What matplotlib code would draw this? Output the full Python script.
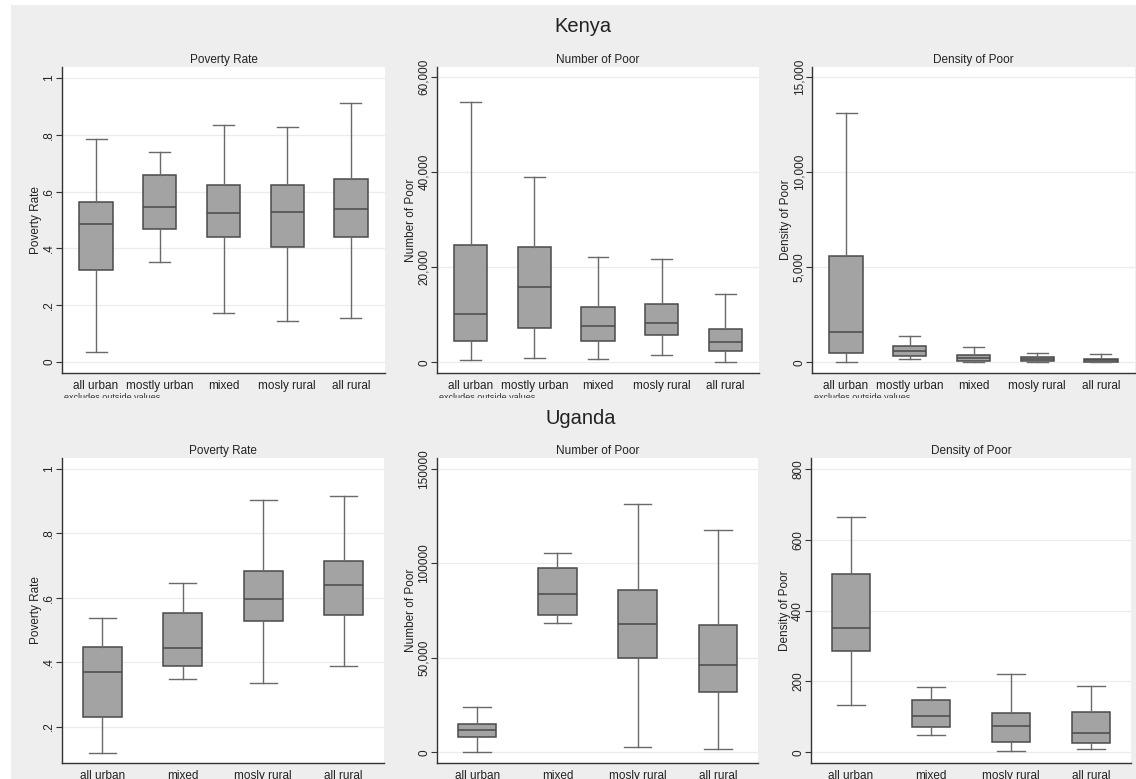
import matplotlib
matplotlib.use("Agg")
import matplotlib.pyplot as plt
from matplotlib.patches import Rectangle

plt.rcParams['font.family'] = ['Liberation Sans', 'DejaVu Sans']

# ---------------- data ----------------
ke_cats = ["all urban", "mostly urban", "mixed", "mosly rural", "all rural"]
ug_cats = ["all urban", "mixed", "mosly rural", "all rural"]

# order: lower whisker, Q1, median, Q3, upper whisker
ke_rate_lo = [0.034, 0.351, 0.172, 0.143, 0.156]
ke_rate_q1 = [0.324, 0.470, 0.440, 0.406, 0.440]
ke_rate_med = [0.486, 0.547, 0.526, 0.527, 0.540]
ke_rate_q3 = [0.562, 0.660, 0.625, 0.625, 0.645]
ke_rate_hi = [0.787, 0.740, 0.833, 0.828, 0.911]

ke_num_lo = [421, 982, 702, 1544, 140]
ke_num_q1 = [4561, 7158, 4561, 5684, 2386]
ke_num_med = [10245, 15789, 7579, 8351, 4281]
ke_num_q3 = [24700, 24351, 11649, 12351, 7088]
ke_num_hi = [54737, 38947, 22246, 21825, 14316]

ke_den_lo = [35, 175, 0, 18, 5]
ke_den_q1 = [474, 316, 70, 53, 35]
ke_den_med = [1579, 579, 228, 158, 123]
ke_den_q3 = [5596, 877, 404, 263, 175]
ke_den_hi = [13140, 1386, 825, 509, 421]

ug_rate_lo = [0.119, 0.347, 0.334, 0.389]
ug_rate_q1 = [0.229, 0.389, 0.527, 0.547]
ug_rate_med = [0.369, 0.443, 0.597, 0.640]
ug_rate_q3 = [0.448, 0.552, 0.682, 0.713]
ug_rate_hi = [0.538, 0.647, 0.904, 0.916]

ug_num_lo = [176, 68294, 3000, 1588]
ug_num_q1 = [8294, 72882, 49765, 31941]
ug_num_med = [11647, 83647, 68118, 46412]
ug_num_q3 = [14824, 97765, 85941, 67588]
ug_num_hi = [23824, 105529, 131647, 117706]

ug_den_lo = [133, 50, 5, 10]
ug_den_q1 = [285, 72, 28, 26]
ug_den_med = [352, 103, 75, 54]
ug_den_q3 = [503, 147, 112, 114]
ug_den_hi = [664, 185, 220, 188]

ke_rate_ticks = [0, 0.2, 0.4, 0.6, 0.8, 1.0]
ke_rate_labels = ["0", ".2", ".4", ".6", ".8", "1"]
ke_num_ticks = [0, 20000, 40000, 60000]
ke_num_labels = ["0", "20,000", "40,000", "60,000"]
ke_den_ticks = [0, 5000, 10000, 15000]
ke_den_labels = ["0", "5,000", "10,000", "15,000"]
ug_rate_ticks = [0.2, 0.4, 0.6, 0.8, 1.0]
ug_rate_labels = [".2", ".4", ".6", ".8", "1"]
ug_num_ticks = [0, 50000, 100000, 150000]
ug_num_labels = ["0", "50,000", "100000", "150000"]
ug_den_ticks = [0, 200, 400, 600, 800]
ug_den_labels = ["0", "200", "400", "600", "800"]

# ---------------- figure ----------------
W, H = 1136, 779
fig = plt.figure(figsize=(W / 100, H / 100), dpi=100)
fig.patch.set_facecolor("white")

BG = "#eeeeee"
fig.patches.append(Rectangle((11 / W, 1 - 409 / H), (W - 11) / W, (409 - 5) / H,
                             transform=fig.transFigure, facecolor=BG, edgecolor="none", zorder=-10))
fig.patches.append(Rectangle((11 / W, 0), (W - 11) / W, 1 - 409 / H,
                             transform=fig.transFigure, facecolor=BG, edgecolor="none", zorder=-10))


def make_ax(x0, x1, y0, y1):
    return fig.add_axes([x0 / W, 1 - y1 / H, (x1 - x0) / W, (y1 - y0) / H])


def draw(ax, cats, lo, q1, med, q3, hi, ylim, ticks, tlabels, title, ylabel,
         xpad, bw, cw, note=False):
    stats = []
    for i in range(len(cats)):
        stats.append(dict(whislo=lo[i], q1=q1[i], med=med[i], q3=q3[i],
                          whishi=hi[i], fliers=[]))
    pos = list(range(1, len(cats) + 1))
    ax.bxp(stats, positions=pos, widths=bw, capwidths=cw, patch_artist=True,
           showfliers=False,
           boxprops=dict(facecolor="#a3a3a3", edgecolor="#4a4a4a", linewidth=1.1),
           medianprops=dict(color="#4a4a4a", linewidth=1.1),
           whiskerprops=dict(color="#6a6a6a", linewidth=1.0),
           capprops=dict(color="#6a6a6a", linewidth=1.0))
    ax.set_xlim(1 - xpad, len(cats) + xpad)
    ax.set_ylim(*ylim)
    ax.set_yticks(ticks)
    ax.set_yticklabels(tlabels, rotation=90, va="center", fontsize=8.5, color="#222222")
    ax.set_xticks(pos)
    ax.set_xticklabels(cats, fontsize=8.5, color="#222222")
    ax.tick_params(axis="x", length=0, pad=5)
    ax.tick_params(axis="y", length=4, width=0.8, color="#333333", pad=1)
    ax.set_facecolor("white")
    for s in ["top", "right"]:
        ax.spines[s].set_visible(False)
    for s in ["left", "bottom"]:
        ax.spines[s].set_color("#333333")
        ax.spines[s].set_linewidth(1.0)
    ax.yaxis.grid(True, color="#ececec", linewidth=0.9)
    ax.set_axisbelow(True)
    ax.set_title(title, fontsize=8.5, pad=3, color="#222222")
    ax.set_ylabel(ylabel, fontsize=8.5, color="#222222", labelpad=1)
    if note:
        ax.text(0.005, -0.064, "excludes outside values", transform=ax.transAxes,
                fontsize=6.5, va="top", ha="left", color="#333333")


top_y = (67, 373)
bot_y = (458, 763)

a1 = make_ax(62, 385, *top_y)
draw(a1, ke_cats, ke_rate_lo, ke_rate_q1, ke_rate_med, ke_rate_q3, ke_rate_hi,
     (-0.039, 1.039), ke_rate_ticks, ke_rate_labels, "Poverty Rate", "Poverty Rate",
     0.534, 0.52, 0.33, note=True)
a2 = make_ax(437, 759, *top_y)
draw(a2, ke_cats, ke_num_lo, ke_num_q1, ke_num_med, ke_num_q3, ke_num_hi,
     (-2250, 62170), ke_num_ticks, ke_num_labels, "Number of Poor", "Number of Poor",
     0.534, 0.52, 0.33, note=True)
a3 = make_ax(812, 1135, *top_y)
draw(a3, ke_cats, ke_den_lo, ke_den_q1, ke_den_med, ke_den_q3, ke_den_hi,
     (-560, 15540), ke_den_ticks, ke_den_labels, "Density of Poor", "Density of Poor",
     0.534, 0.52, 0.33, note=True)

b1 = make_ax(62, 384, *bot_y)
draw(b1, ug_cats, ug_rate_lo, ug_rate_q1, ug_rate_med, ug_rate_q3, ug_rate_hi,
     (0.087, 1.034), ug_rate_ticks, ug_rate_labels, "Poverty Rate", "Poverty Rate",
     0.5, 0.48, 0.34)
b2 = make_ax(437, 758, *bot_y)
draw(b2, ug_cats, ug_num_lo, ug_num_q1, ug_num_med, ug_num_q3, ug_num_hi,
     (-5665, 155824), ug_num_ticks, ug_num_labels, "Number of Poor", "Number of Poor",
     0.5, 0.48, 0.34)
b3 = make_ax(811, 1131, *bot_y)
draw(b3, ug_cats, ug_den_lo, ug_den_q1, ug_den_med, ug_den_q3, ug_den_hi,
     (-30.2, 831), ug_den_ticks, ug_den_labels, "Density of Poor", "Density of Poor",
     0.5, 0.48, 0.34)

fig.text(583 / W, 1 - 27 / H, "Kenya", ha="center", va="center", fontsize=14.5, color="#222222")
fig.text(581 / W, 1 - 418 / H, "Uganda", ha="center", va="center", fontsize=14.5, color="#222222")

# mask cutting off the note text (as in the reference)
fig.artists.append(Rectangle((11 / W, 1 - 409 / H), (W - 11) / W, (409 - 398) / H,
                             transform=fig.transFigure, facecolor=BG, edgecolor="none",
                             zorder=50))

fig.savefig("out.png", dpi=100)
